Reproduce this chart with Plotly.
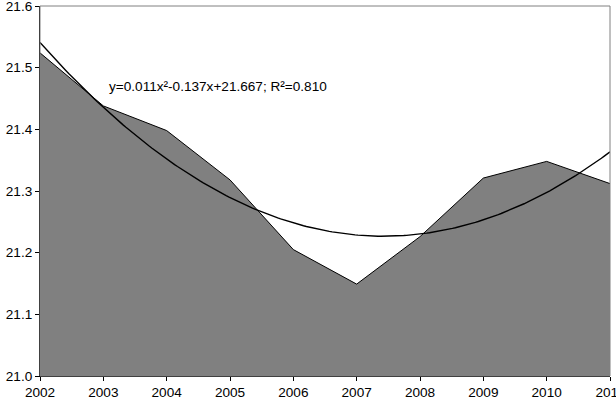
import numpy as np
import plotly.graph_objects as go

years = [2002, 2003, 2004, 2005, 2006, 2007, 2008, 2009, 2010, 2011]
values = [21.524, 21.438, 21.398, 21.318, 21.205, 21.149, 21.226, 21.321, 21.348, 21.312]
equation_label = "y=0.011x²-0.137x+21.667; R²=0.810"

# quadratic trend fitted to the series (x = 1..n)
xi = np.arange(1, len(years) + 1)
coef = np.polyfit(xi, values, 2)
xs = np.linspace(1, len(years), 200)
trend_x = years[0] + xs - 1
trend_y = np.polyval(coef, xs)

FONT = "Liberation Sans, Arial, sans-serif"

fig = go.Figure()
fig.add_trace(go.Scatter(
    x=years, y=values, mode="lines", fill="tozeroy",
    fillcolor="#808080", line=dict(color="#000000", width=1),
    hoverinfo="skip", showlegend=False,
))
fig.add_trace(go.Scatter(
    x=trend_x, y=trend_y, mode="lines",
    line=dict(color="#000000", width=1.4),
    showlegend=False, hoverinfo="skip",
))

fig.add_annotation(
    x=2003.06, y=21.469, xref="x", yref="y", text=equation_label,
    showarrow=False, xanchor="left", yanchor="middle",
    font=dict(family=FONT, size=13.6, color="#000000"),
)

fig.update_layout(
    width=616, height=407,
    margin=dict(l=40, r=6, t=6, b=31, autoexpand=False),
    paper_bgcolor="white", plot_bgcolor="white",
    font=dict(family=FONT, size=13.6, color="#000000"),
    shapes=[dict(type="rect", xref="paper", yref="paper", x0=0, y0=0, x1=1, y1=1,
                 line=dict(color="#808080", width=1), layer="above")],
)
fig.update_xaxes(
    range=[2002, 2011], tickmode="array", tickvals=years,
    ticktext=[str(y) for y in years],
    showgrid=False, zeroline=False, showline=True, linecolor="#000000", linewidth=1,
    ticks="outside", ticklen=4, tickcolor="#000000", layer="above traces",
    ticklabeloverflow="allow", automargin=False,
)
fig.update_yaxes(
    range=[21.0, 21.6], tickmode="array",
    tickvals=[21.0, 21.1, 21.2, 21.3, 21.4, 21.5, 21.6],
    ticktext=["21.0", "21.1", "21.2", "21.3", "21.4", "21.5", "21.6"],
    showgrid=False, zeroline=False, showline=True, linecolor="#000000", linewidth=1,
    ticks="outside", ticklen=4, tickcolor="#000000", layer="above traces",
    ticklabeloverflow="allow", automargin=False,
)

fig.write_html("out.html")
